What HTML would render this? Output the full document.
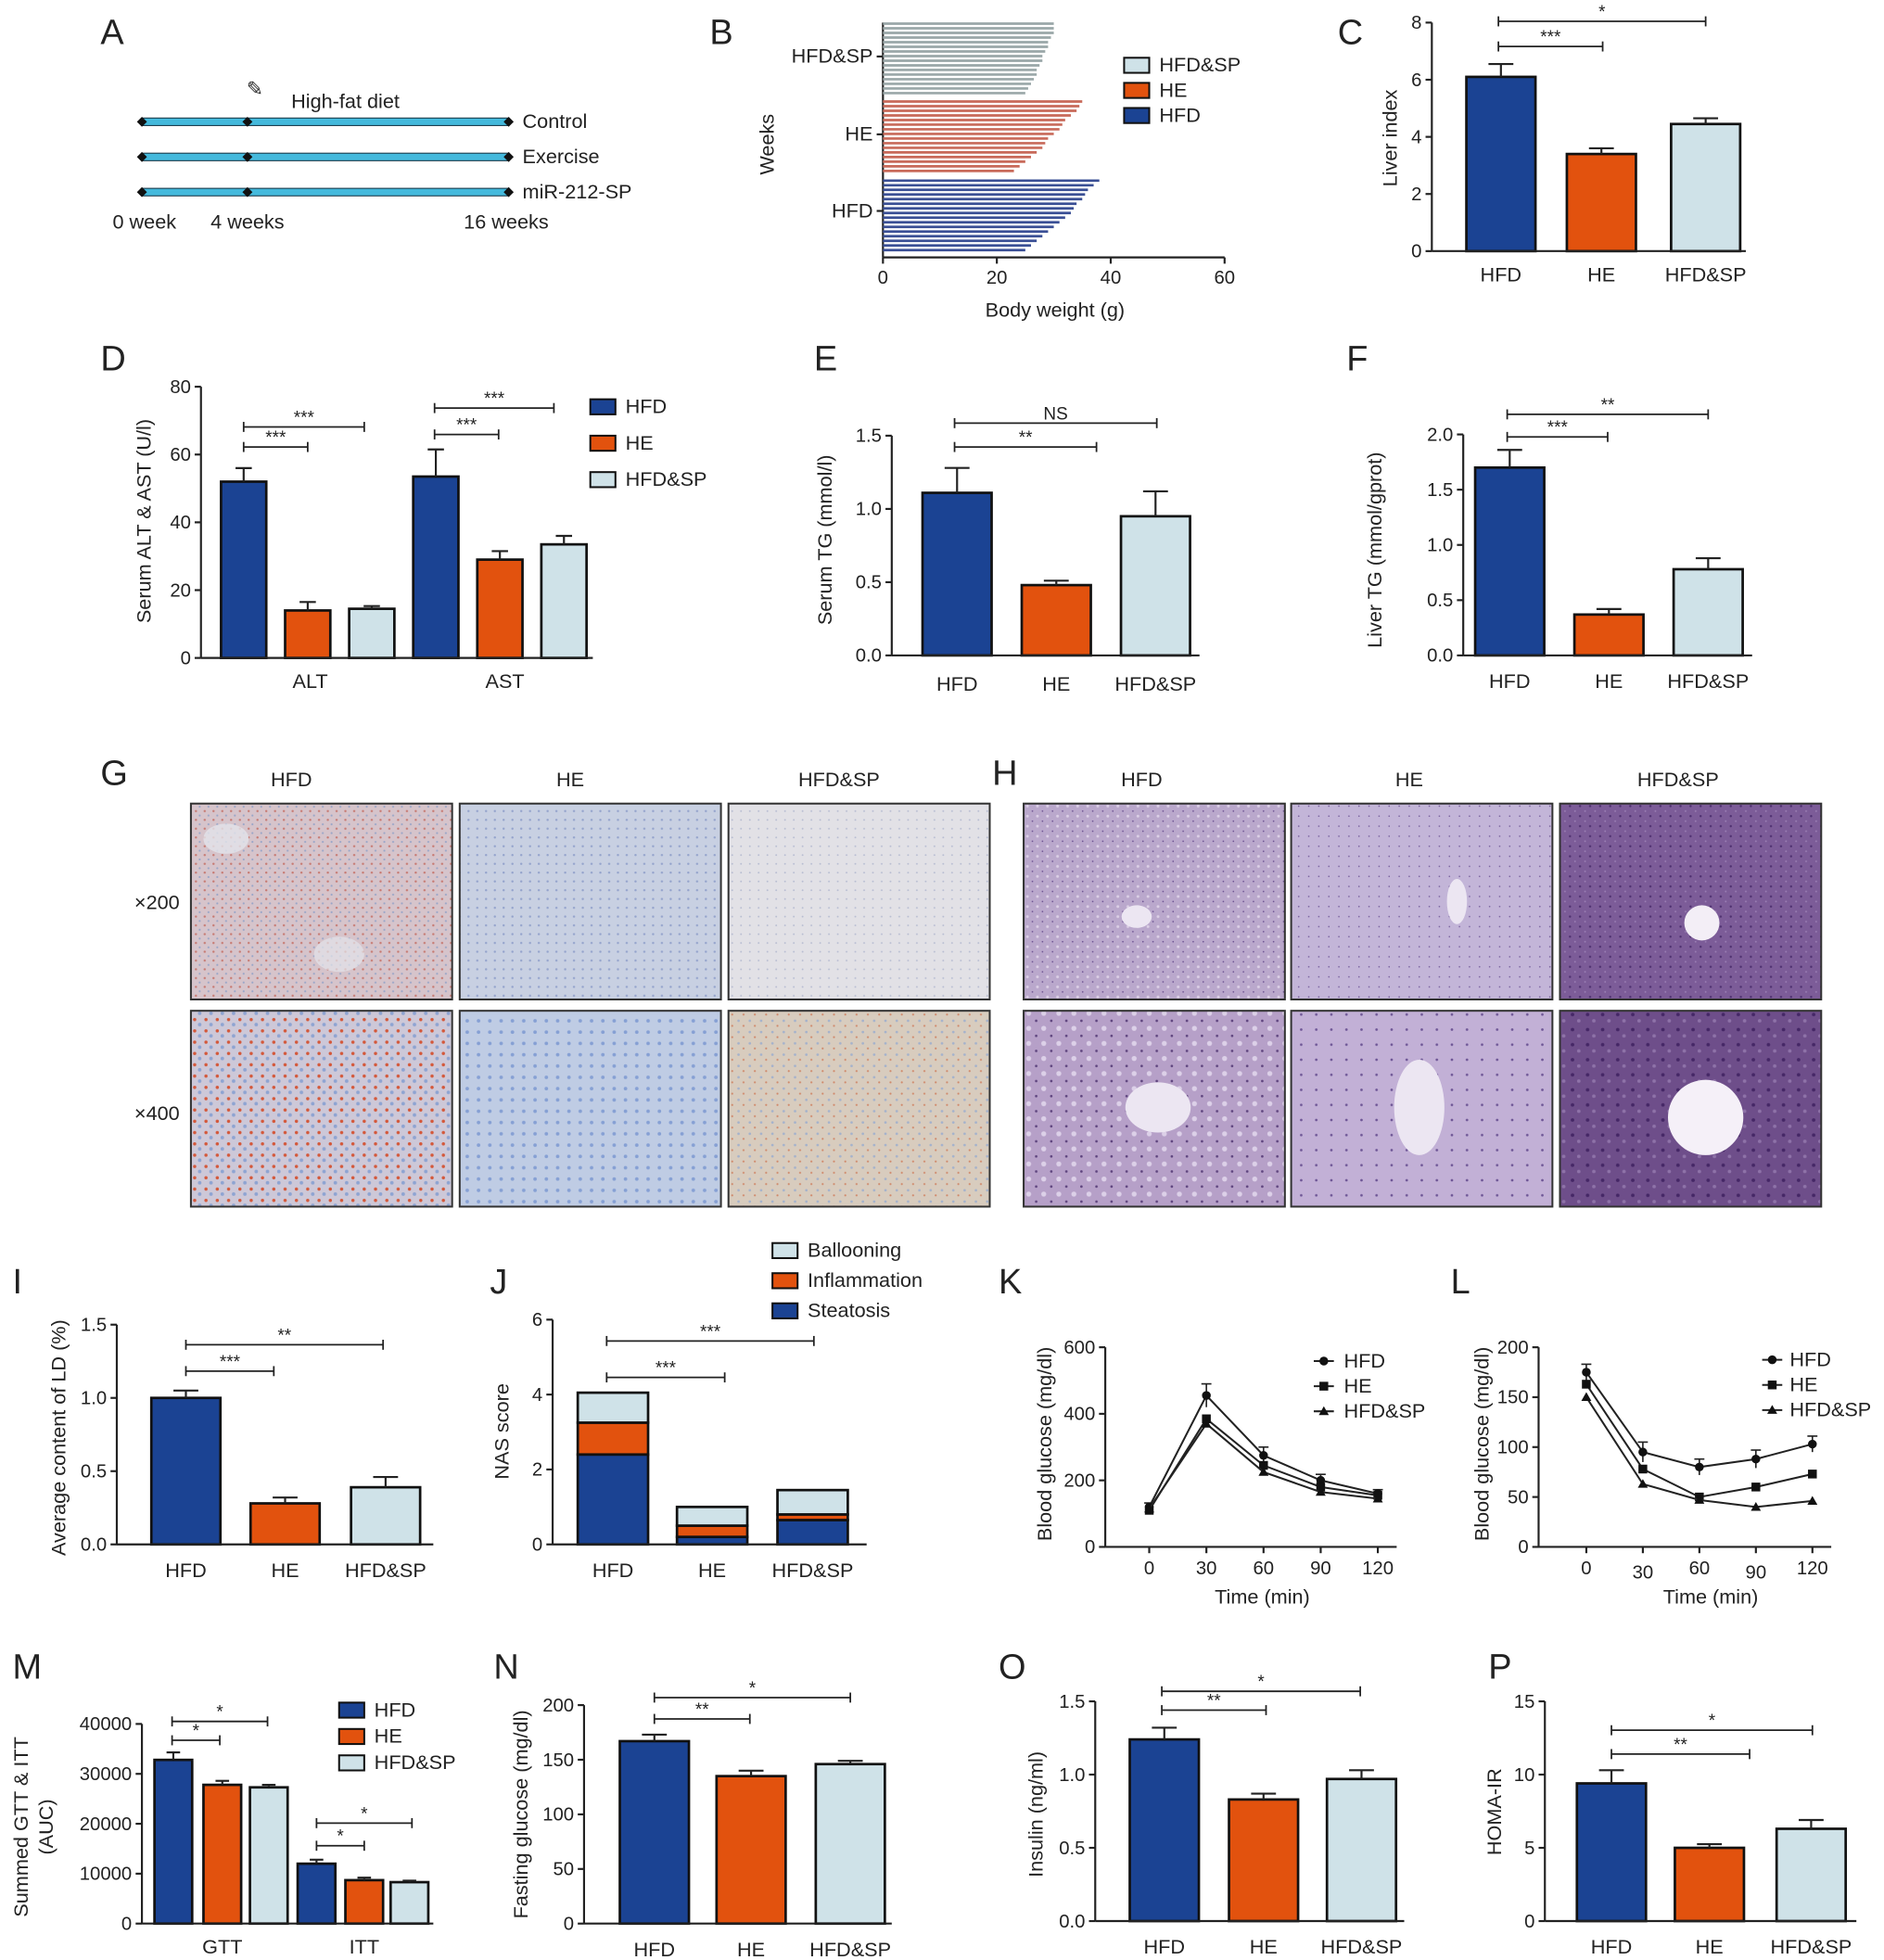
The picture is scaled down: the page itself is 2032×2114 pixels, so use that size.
<!DOCTYPE html>
<html><head><meta charset="utf-8">
<style>
html,body{margin:0;padding:0;background:#fff;}
svg{display:block;font-family:"Liberation Sans",Arial,sans-serif;}
</style></head>
<body>
<svg id="fig" width="2032" height="2114" viewBox="0 0 1500 1561" preserveAspectRatio="none" xmlns="http://www.w3.org/2000/svg">
<defs>
<pattern id="pOilHFD" width="7" height="7" patternUnits="userSpaceOnUse"><rect width="7" height="7" fill="#d6c4cb"/><circle cx="2" cy="2" r="0.9" fill="#c77a72"/><circle cx="5" cy="5.5" r="0.8" fill="#9aa6c8"/></pattern>
<pattern id="pOilHE" width="7" height="7" patternUnits="userSpaceOnUse"><rect width="7" height="7" fill="#c8d0e2"/><circle cx="2" cy="2" r="0.9" fill="#94a3cc"/></pattern>
<pattern id="pOilSP" width="7" height="7" patternUnits="userSpaceOnUse"><rect width="7" height="7" fill="#e2e1e6"/><circle cx="2" cy="2" r="0.7" fill="#b8bdd2"/></pattern>
<pattern id="pOilHFD4" width="9" height="9" patternUnits="userSpaceOnUse"><rect width="9" height="9" fill="#cdc8d8"/><circle cx="2" cy="2" r="1.3" fill="#d4583a"/><circle cx="6" cy="6" r="1.4" fill="#8ea4d2"/></pattern>
<pattern id="pOilHE4" width="9" height="9" patternUnits="userSpaceOnUse"><rect width="9" height="9" fill="#bfcce4"/><circle cx="3" cy="3" r="1.4" fill="#86a0d4"/></pattern>
<pattern id="pOilSP4" width="9" height="9" patternUnits="userSpaceOnUse"><rect width="9" height="9" fill="#d8ccbe"/><circle cx="3" cy="3" r="1" fill="#a4b2cc"/><circle cx="7" cy="7" r="0.8" fill="#d08a6c"/></pattern>
<pattern id="pHeHFD" width="8" height="8" patternUnits="userSpaceOnUse"><rect width="8" height="8" fill="#baa8cc"/><circle cx="2" cy="2" r="1.1" fill="#dcd0e6"/><circle cx="6" cy="6" r="0.6" fill="#6a5090"/></pattern>
<pattern id="pHeHE" width="8" height="8" patternUnits="userSpaceOnUse"><rect width="8" height="8" fill="#c3b5d8"/><circle cx="2" cy="2" r="0.6" fill="#7a62a0"/></pattern>
<pattern id="pHeSP" width="8" height="8" patternUnits="userSpaceOnUse"><rect width="8" height="8" fill="#7c5c98"/><circle cx="2" cy="2" r="0.9" fill="#4e3070"/><circle cx="6" cy="6" r="0.7" fill="#9a7eb4"/></pattern>
<pattern id="pHeHFD4" width="12" height="12" patternUnits="userSpaceOnUse"><rect width="12" height="12" fill="#b6a0c8"/><circle cx="3" cy="3" r="2" fill="#dcd0e8"/><circle cx="9" cy="9" r="1" fill="#5e447e"/></pattern>
<pattern id="pHeHE4" width="12" height="12" patternUnits="userSpaceOnUse"><rect width="12" height="12" fill="#c2b0d6"/><circle cx="4" cy="4" r="1" fill="#6e5696"/></pattern>
<pattern id="pHeSP4" width="12" height="12" patternUnits="userSpaceOnUse"><rect width="12" height="12" fill="#6e4e8a"/><circle cx="4" cy="4" r="1.4" fill="#452766"/><circle cx="9" cy="9" r="1.4" fill="#8e72a8"/></pattern>
</defs>
</svg>
<script>
// ---------- data ----------
const groups3 = ["HFD","HE","HFD&SP"];
const bWeeksHFD = [25,26,27,28,29,30,31,32,33,33.5,34,35,35.5,36,37,38];
const bWeeksHE  = [23,24,25,26,27,28,28.5,29,30,31,31.5,32,33,34,34.5,35];
const bWeeksSP  = [25,25.5,26,26.5,27,27,27.5,28,28,28.5,29,29,29.5,30,30,30];
const liverIndex = [6.1,3.4,4.45];
const liverIndexErr = [0.45,0.2,0.2];
const altVals = [52,14,14.5];
const altErr = [4,2.5,0.8];
const astVals = [53.5,29,33.5];
const astErr = [8,2.5,2.5];
const serumTG = [1.11,0.48,0.95];
const serumTGErr = [0.17,0.03,0.17];
const liverTG = [1.7,0.37,0.78];
const liverTGErr = [0.16,0.05,0.1];
const ldContent = [1.0,0.28,0.39];
const ldErr = [0.05,0.04,0.07];
const nasSteatosis = [2.4,0.2,0.65];
const nasInflammation = [0.85,0.3,0.15];
const nasBallooning = [0.8,0.5,0.65];
const timePoints = [0,30,60,90,120];
const gttHFD = [120,455,275,200,160];
const gttHE = [110,385,245,180,155];
const gttSP = [115,370,225,165,145];
const gttErr = [12,35,25,18,12];
const ittHFD = [175,95,80,88,103];
const ittHE = [163,78,50,60,73];
const ittSP = [150,63,47,40,46];
const ittErr = [8,10,8,9,8];
const aucGTT = [32800,27800,27300];
const aucGTTErr = [1500,800,500];
const aucITT = [12000,8700,8300];
const aucITTErr = [800,500,300];
const fastGlu = [167,135,146];
const fastGluErr = [6,5,3];
const insulin = [1.24,0.83,0.97];
const insulinErr = [0.08,0.04,0.06];
const homa = [9.4,5.0,6.3];
const homaErr = [0.9,0.25,0.6];

const COL = ["#1b4393","#e2520e","#cfe2e8"];
const svg = document.getElementById('fig');
const NS = 'http://www.w3.org/2000/svg';

function mk(tag, attrs, name, parent){
  const e = document.createElementNS(NS, tag);
  for (const k in attrs) e.setAttribute(k, attrs[k]);
  
  
  (parent || svg).appendChild(e);
  return e;
}
function txt(x,y,s,name,opts,parent){
  opts = opts || {};
  const a = {x:x,y:y,'font-size':opts.size||15,'text-anchor':opts.anchor||'middle',fill:'#222'};
  if (opts.rot) a.transform = 'rotate(-90 '+x+' '+y+')';
  const t = mk('text', a, name, parent);
  t.textContent = s;
  return t;
}
function line(x1,y1,x2,y2,name,w,c,parent){
  return mk('line',{x1:x1,y1:y1,x2:x2,y2:y2,stroke:c||'#222','stroke-width':w||1.6},name,parent);
}
function letter(x,y,s){ txt(x,y,s,'panel-label-'+s.toLowerCase(),{size:28,anchor:'start'}); }

function yAxis(ax, y0, y1, vmax, ticks, labels, name){
  const f = v => y0 - v / vmax * (y0 - y1);
  line(ax, y0, ax, y1, name+'-y-axis');
  ticks.forEach((t,i)=>{
    line(ax-5, f(t), ax, f(t), name+'-y-tick');
    txt(ax-8, f(t)+5, labels[i], name+'-y-tick-label', {anchor:'end'});
  });
  return f;
}
function bar(cx, w, v, e, f, y0, color, name){
  const top = f(v);
  mk('rect',{x:cx-w/2,y:top,width:w,height:y0-top,fill:color,stroke:'#111','stroke-width':2},name);
  if (e){
    line(cx, top, cx, f(v+e), name+'-error-bar', 1.6);
    line(cx-w*0.18, f(v+e), cx+w*0.18, f(v+e), name+'-error-cap', 1.6);
  }
}
function bracket(x1,x2,y,label,name){
  line(x1,y,x2,y,name,1.3);
  line(x1,y-4,x1,y+4,name+'-end',1.3);
  line(x2,y-4,x2,y+4,name+'-end',1.3);
  txt((x1+x2)/2, y-3, label, name+'-label', {size:14});
}
function legend(x,y,dy,labels,cols,name){
  labels.forEach((l,i)=>{
    mk('rect',{x:x,y:y+i*dy-11,width:20,height:12,fill:cols[i],stroke:'#111','stroke-width':1.5},name+'-swatch');
    txt(x+28,y+i*dy,l,name+'-entry',{anchor:'start',size:16});
  });
}
function marker(x,y,type,name){
  if(type=='c') mk('circle',{cx:x,cy:y,r:3.5,fill:'#111'},name);
  else if(type=='s') mk('rect',{x:x-3.5,y:y-3.5,width:7,height:7,fill:'#111'},name);
  else mk('polygon',{points:(x-4)+','+(y+3)+' '+(x+4)+','+(y+3)+' '+x+','+(y-4),fill:'#111'},name);
}

// ---------- A ----------
letter(80,35,'A');
[97,125,153].forEach((y,i)=>{
  mk('rect',{x:113,y:y-3,width:292,height:6,fill:'#44b9dc',stroke:'#1a3a4a','stroke-width':0.8},'timeline-bar');
  [113,197,405].forEach(x=>mk('polygon',{points:(x-4)+','+y+' '+x+','+(y-4)+' '+(x+4)+','+y+' '+x+','+(y+4),fill:'#111'},'timeline-marker'));
  txt(416,y+5,['Control','Exercise','miR-212-SP'][i],'timeline-group-label',{anchor:'start',size:16});
});
txt(275,86,'High-fat diet','high-fat-diet-label',{size:16});
txt(203,76,'✎','syringe-icon',{size:16});
txt(115,182,'0 week','week-0-label',{size:16});
txt(197,182,'4 weeks','week-4-label',{size:16});
txt(403,182,'16 weeks','week-16-label',{size:16});

// ---------- B ----------
letter(565,35,'B');
(function(){
  const ax=703, y0=205, fx = v => ax + v/60*(975-703);
  line(ax,18,ax,y0,'b-y-axis');
  line(ax,y0,975,y0,'b-x-axis');
  [0,20,40,60].forEach(t=>{ line(fx(t),y0,fx(t),y0+5,'b-x-tick'); txt(fx(t),y0+21,String(t),'b-x-tick-label'); });
  const sets=[[bWeeksSP,18,'#9aa7a8','HFD&SP',50],[bWeeksHE,80,'#c86a5a','HE',112],[bWeeksHFD,143,'#3a4f95','HFD',173]];
  sets.forEach(s=>{
    const arr=s[0], n=arr.length, sp=59/n;
    for(let i=0;i<n;i++){
      const y = s[1] + 58 - i*sp - sp/2;
      line(ax, y, fx(arr[i]), y, 'b-week-line-'+s[3], 2, s[2]);
    }
    line(ax-5,s[4]-5,ax,s[4]-5,'b-y-tick');
    txt(ax-8,s[4],s[3],'b-group-label',{anchor:'end',size:16});
  });
  txt(616,115,'Weeks','b-y-axis-title',{rot:true,size:16});
  txt(840,252,'Body weight (g)','b-x-axis-title',{size:16});
  legend(895,57,20,['HFD&SP','HE','HFD'],['#cfe2e8','#e2520e','#1b4393'],'b-legend');
})();

// ---------- C ----------
letter(1065,35,'C');
(function(){
  const y0=200, f=yAxis(1140,y0,18,8,[0,2,4,6,8],['0','2','4','6','8'],'c');
  const cx=[1195,1275,1358];
  liverIndex.forEach((v,i)=>bar(cx[i],55,v,liverIndexErr[i],f,y0,COL[i],'c-bar-'+groups3[i]));
  line(1140,y0,1390,y0,'c-x-axis');
  groups3.forEach((g,i)=>txt(cx[i],y0+24,g,'c-x-label',{size:16}));
  txt(1112,110,'Liver index','c-y-axis-title',{rot:true,size:16});
  bracket(1193,1358,17,'*','c-sig-hfd-sp');
  bracket(1193,1276,37,'***','c-sig-hfd-he');
})();

// ---------- D ----------
letter(80,295,'D');
(function(){
  const y0=524, f=yAxis(160,y0,308,80,[0,20,40,60,80],['0','20','40','60','80'],'d');
  const cA=[194,245,296], cB=[347,398,449];
  altVals.forEach((v,i)=>bar(cA[i],36,v,altErr[i],f,y0,COL[i],'d-alt-bar-'+groups3[i]));
  astVals.forEach((v,i)=>bar(cB[i],36,v,astErr[i],f,y0,COL[i],'d-ast-bar-'+groups3[i]));
  line(160,y0,472,y0,'d-x-axis');
  txt(247,548,'ALT','d-x-label',{size:16}); txt(402,548,'AST','d-x-label',{size:16});
  txt(120,415,'Serum ALT & AST (U/l)','d-y-axis-title',{rot:true,size:16});
  bracket(194,290,340,'***','d-sig-alt-hfd-sp');
  bracket(194,245,356,'***','d-sig-alt-hfd-he');
  bracket(346,441,325,'***','d-sig-ast-hfd-sp');
  bracket(346,397,346,'***','d-sig-ast-hfd-he');
  legend(470,329,29,groups3,COL,'d-legend');
})();

// ---------- E ----------
letter(648,295,'E');
(function(){
  const y0=522, f=yAxis(710,y0,347,1.5,[0,0.5,1,1.5],['0.0','0.5','1.0','1.5'],'e');
  const cx=[762,841,920];
  serumTG.forEach((v,i)=>bar(cx[i],55,v,serumTGErr[i],f,y0,COL[i],'e-bar-'+groups3[i]));
  line(710,y0,955,y0,'e-x-axis');
  groups3.forEach((g,i)=>txt(cx[i],550,g,'e-x-label',{size:16}));
  txt(662,430,'Serum TG (mmol/l)','e-y-axis-title',{rot:true,size:16});
  bracket(760,921,337,'NS','e-sig-hfd-sp');
  bracket(760,873,356,'**','e-sig-hfd-he');
})();

// ---------- F ----------
letter(1072,295,'F');
(function(){
  const y0=522, f=yAxis(1165,y0,346,2,[0,0.5,1,1.5,2],['0.0','0.5','1.0','1.5','2.0'],'f');
  const cx=[1202,1281,1360];
  liverTG.forEach((v,i)=>bar(cx[i],55,v,liverTGErr[i],f,y0,COL[i],'f-bar-'+groups3[i]));
  line(1165,y0,1395,y0,'f-x-axis');
  groups3.forEach((g,i)=>txt(cx[i],548,g,'f-x-label',{size:16}));
  txt(1100,438,'Liver TG (mmol/gprot)','f-y-axis-title',{rot:true,size:16});
  bracket(1200,1360,330,'**','f-sig-hfd-sp');
  bracket(1200,1280,348,'***','f-sig-hfd-he');
})();

// ---------- G & H ----------
letter(80,625,'G'); letter(790,625,'H');
(function(){
  const gx=[152,366,580], hx=[815,1028,1242], w=208, ys=[640,805], h=156;
  const gp=[['pOilHFD','pOilHE','pOilSP'],['pOilHFD4','pOilHE4','pOilSP4']];
  const hp=[['pHeHFD','pHeHE','pHeSP'],['pHeHFD4','pHeHE4','pHeSP4']];
  ys.forEach((y,r)=>{
    gx.forEach((x,i)=>mk('rect',{x:x,y:y,width:w,height:h,fill:'url(#'+gp[r][i]+')',stroke:'#333','stroke-width':1.5},'g-oil-red-image-'+groups3[i]));
    hx.forEach((x,i)=>mk('rect',{x:x,y:y,width:w,height:h,fill:'url(#'+hp[r][i]+')',stroke:'#333','stroke-width':1.5},'h-he-stain-image-'+groups3[i]));
  });
  mk('ellipse',{cx:180,cy:668,rx:18,ry:12,fill:'#e2e4ea',opacity:0.8},'g-pale-area');
  mk('ellipse',{cx:270,cy:760,rx:20,ry:14,fill:'#e2e4ea',opacity:0.7},'g-pale-area');
  mk('ellipse',{cx:905,cy:730,rx:12,ry:9,fill:'#ece6f2'},'h-vessel');
  mk('ellipse',{cx:1160,cy:718,rx:8,ry:18,fill:'#ece6f2'},'h-vessel');
  mk('circle',{cx:1355,cy:735,r:14,fill:'#f3eef6'},'h-vessel');
  mk('ellipse',{cx:922,cy:882,rx:26,ry:20,fill:'#ece6f2'},'h-vessel');
  mk('ellipse',{cx:1130,cy:882,rx:20,ry:38,fill:'#ece6f2'},'h-vessel');
  mk('circle',{cx:1358,cy:890,r:30,fill:'#f5f0f8'},'h-vessel');
  ['HFD','HE','HFD&SP'].forEach((g,i)=>{ txt(gx[i]+w/2-16+ (i==0?-8:0),626,g,'g-column-label',{size:16}); txt(hx[i]+w/2-10,626,g,'h-column-label',{size:16}); });
  txt(125,724,'×200','g-row-label-200',{size:16}); txt(125,892,'×400','g-row-label-400',{size:16});
})();

// ---------- I ----------
letter(10,1030,'I');
(function(){
  const y0=1230, f=yAxis(93,y0,1055,1.5,[0,0.5,1,1.5],['0.0','0.5','1.0','1.5'],'i');
  const cx=[148,227,307];
  ldContent.forEach((v,i)=>bar(cx[i],55,v,ldErr[i],f,y0,COL[i],'i-bar-'+groups3[i]));
  line(93,y0,345,y0,'i-x-axis');
  groups3.forEach((g,i)=>txt(cx[i],1256,g,'i-x-label',{size:16}));
  txt(52,1145,'Average content of LD (%)','i-y-axis-title',{rot:true,size:16});
  bracket(148,305,1071,'**','i-sig-hfd-sp');
  bracket(148,218,1092,'***','i-sig-hfd-he');
})();

// ---------- J ----------
letter(390,1030,'J');
(function(){
  const y0=1230, f=yAxis(440,y0,1051,6,[0,2,4,6],['0','2','4','6'],'j');
  const cx=[488,567,647], w=56;
  [0,1,2].forEach(i=>{
    const s=nasSteatosis[i], m=nasInflammation[i], b=nasBallooning[i];
    mk('rect',{x:cx[i]-w/2,y:f(s),width:w,height:y0-f(s),fill:COL[0],stroke:'#111','stroke-width':2},'j-steatosis-'+groups3[i]);
    mk('rect',{x:cx[i]-w/2,y:f(s+m),width:w,height:f(s)-f(s+m),fill:COL[1],stroke:'#111','stroke-width':2},'j-inflammation-'+groups3[i]);
    mk('rect',{x:cx[i]-w/2,y:f(s+m+b),width:w,height:f(s+m)-f(s+m+b),fill:COL[2],stroke:'#111','stroke-width':2},'j-ballooning-'+groups3[i]);
  });
  line(440,y0,690,y0,'j-x-axis');
  groups3.forEach((g,i)=>txt(cx[i],1256,g,'j-x-label',{size:16}));
  txt(405,1140,'NAS score','j-y-axis-title',{rot:true,size:16});
  bracket(483,648,1068,'***','j-sig-hfd-sp');
  bracket(483,577,1097,'***','j-sig-hfd-he');
  legend(615,1001,24,['Ballooning','Inflammation','Steatosis'],[COL[2],COL[1],COL[0]],'j-legend');
})();

// ---------- K & L ----------
function linePanel(ax,y0,y1,vmax,ticks,x0,x1,series,err,name,markers){
  const f=yAxis(ax,y0,y1,vmax,ticks,ticks.map(String),name);
  const fx=t=>x0+t/120*(x1-x0);
  line(ax,y0,x1+15,y0,name+'-x-axis');
  timePoints.forEach(t=>{ line(fx(t),y0,fx(t),y0+5,name+'-x-tick'); });
  series.forEach((s,k)=>{
    mk('polyline',{points:s.map((v,i)=>fx(timePoints[i])+','+f(v)).join(' '),fill:'none',stroke:'#222','stroke-width':1.5},name+'-line-'+groups3[k]);
    s.forEach((v,i)=>{
      const x=fx(timePoints[i]), y=f(v);
      if(k==0){
        line(x,f(v+err[i]),x,f(v-err[i]),name+'-error-bar',1.2);
        line(x-4,f(v+err[i]),x+4,f(v+err[i]),name+'-error-cap',1.2);
      }
      marker(x,y,markers[k],name+'-point-'+groups3[k]);
    });
  });
  return fx;
}
letter(795,1030,'K');
(function(){
  const fx=linePanel(880,1232,1073,600,[0,200,400,600],915,1097,[gttHFD,gttHE,gttSP],gttErr,'k',['c','s','t']);
  timePoints.forEach((t,i)=>txt(fx(t),1254,String(t),'k-x-tick-label'));
  txt(1005,1277,'Time (min)','k-x-axis-title',{size:16});
  txt(837,1150,'Blood glucose (mg/dl)','k-y-axis-title',{rot:true,size:16});
  ['HFD','HE','HFD&SP'].forEach((g,i)=>{ line(1046,1084+i*20,1062,1084+i*20,'k-legend-line',1.5); marker(1054,1084+i*20,['c','s','t'][i],'k-legend-marker'); txt(1070,1089+i*20,g,'k-legend-entry',{anchor:'start',size:16}); });
})();
letter(1155,1030,'L');
(function(){
  const fx=linePanel(1225,1232,1073,200,[0,50,100,150,200],1263,1443,[ittHFD,ittHE,ittSP],ittErr,'l',['c','s','t']);
  timePoints.forEach((t,i)=>txt(fx(t),1254+(i%2?3:0),String(t),'l-x-tick-label'));
  txt(1362,1277,'Time (min)','l-x-axis-title',{size:16});
  txt(1185,1150,'Blood glucose (mg/dl)','l-y-axis-title',{rot:true,size:16});
  ['HFD','HE','HFD&SP'].forEach((g,i)=>{ line(1403,1083+i*20,1419,1083+i*20,'l-legend-line',1.5); marker(1411,1083+i*20,['c','s','t'][i],'l-legend-marker'); txt(1425,1088+i*20,g,'l-legend-entry',{anchor:'start',size:16}); });
})();

// ---------- M ----------
letter(10,1337,'M');
(function(){
  const y0=1532, f=yAxis(113,y0,1373,40000,[0,10000,20000,30000,40000],['0','10000','20000','30000','40000'],'m');
  const cA=[138,177,214], cB=[252,290,326];
  aucGTT.forEach((v,i)=>bar(cA[i],30,v,aucGTTErr[i],f,y0,COL[i],'m-gtt-bar-'+groups3[i]));
  aucITT.forEach((v,i)=>bar(cB[i],30,v,aucITTErr[i],f,y0,COL[i],'m-itt-bar-'+groups3[i]));
  line(113,y0,345,y0,'m-x-axis');
  txt(177,1556,'GTT','m-x-label',{size:16}); txt(290,1556,'ITT','m-x-label',{size:16});
  txt(22,1455,'Summed GTT & ITT','m-y-axis-title',{rot:true,size:16});
  txt(42,1455,'(AUC)','m-y-axis-title-2',{rot:true,size:16});
  bracket(137,213,1371,'*','m-sig-gtt-hfd-sp');
  bracket(137,175,1386,'*','m-sig-gtt-hfd-he');
  bracket(252,328,1452,'*','m-sig-itt-hfd-sp');
  bracket(252,290,1470,'*','m-sig-itt-hfd-he');
  legend(270,1367,21,groups3,COL,'m-legend');
})();

// ---------- N ----------
letter(393,1337,'N');
(function(){
  const y0=1532, f=yAxis(465,y0,1358,200,[0,50,100,150,200],['0','50','100','150','200'],'n');
  const cx=[521,598,677];
  fastGlu.forEach((v,i)=>bar(cx[i],55,v,fastGluErr[i],f,y0,COL[i],'n-bar-'+groups3[i]));
  line(465,y0,710,y0,'n-x-axis');
  groups3.forEach((g,i)=>txt(cx[i],1558,g,'n-x-label',{size:16}));
  txt(420,1445,'Fasting glucose (mg/dl)','n-y-axis-title',{rot:true,size:16});
  bracket(521,677,1352,'*','n-sig-hfd-sp');
  bracket(521,597,1369,'**','n-sig-hfd-he');
})();

// ---------- O ----------
letter(795,1337,'O');
(function(){
  const y0=1530, f=yAxis(872,y0,1355,1.5,[0,0.5,1,1.5],['0.0','0.5','1.0','1.5'],'o');
  const cx=[927,1006,1084];
  insulin.forEach((v,i)=>bar(cx[i],55,v,insulinErr[i],f,y0,COL[i],'o-bar-'+groups3[i]));
  line(872,y0,1118,y0,'o-x-axis');
  groups3.forEach((g,i)=>txt(cx[i],1556,g,'o-x-label',{size:16}));
  txt(830,1445,'Insulin (ng/ml)','o-y-axis-title',{rot:true,size:16});
  bracket(925,1083,1347,'*','o-sig-hfd-sp');
  bracket(925,1008,1362,'**','o-sig-hfd-he');
})();

// ---------- P ----------
letter(1185,1337,'P');
(function(){
  const y0=1530, f=yAxis(1230,y0,1355,15,[0,5,10,15],['0','5','10','15'],'p');
  const cx=[1283,1361,1442];
  homa.forEach((v,i)=>bar(cx[i],55,v,homaErr[i],f,y0,COL[i],'p-bar-'+groups3[i]));
  line(1230,y0,1478,y0,'p-x-axis');
  groups3.forEach((g,i)=>txt(cx[i],1556,g,'p-x-label',{size:16}));
  txt(1195,1443,'HOMA-IR','p-y-axis-title',{rot:true,size:16});
  bracket(1283,1443,1378,'*','p-sig-hfd-sp');
  bracket(1283,1393,1397,'**','p-sig-hfd-he');
})();
</script>
</body></html>
